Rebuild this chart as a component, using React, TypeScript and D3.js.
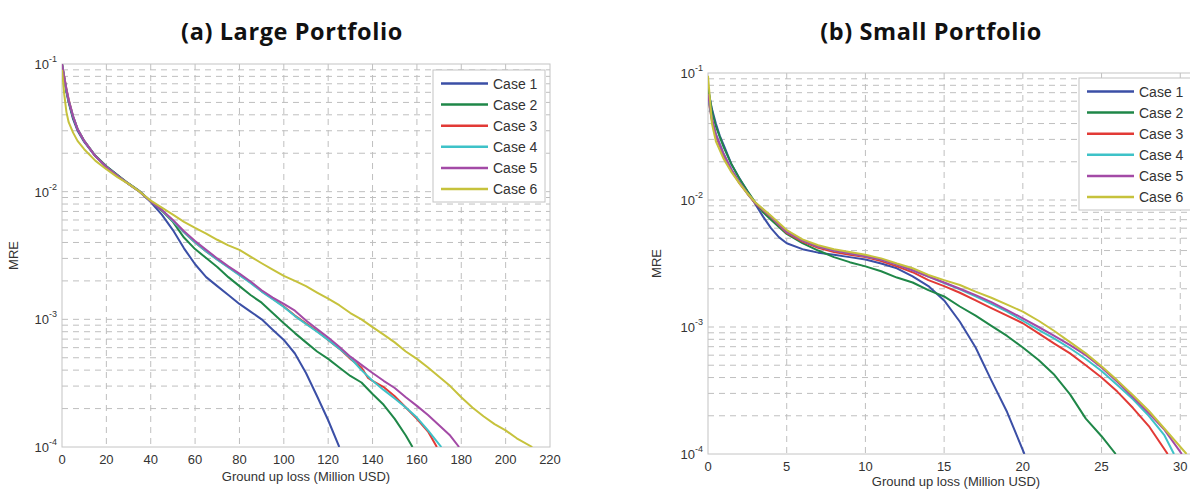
import React from 'react';
import * as d3 from 'd3';

// ---------- data ----------
const caseNames = ['Case 1', 'Case 2', 'Case 3', 'Case 4', 'Case 5', 'Case 6'];
const caseColors = ['#3b4fa6', '#1f8748', '#e23a36', '#3ec2c8', '#a34aa6', '#c6c23c'];

const largeXTicks = [0, 20, 40, 60, 80, 100, 120, 140, 160, 180, 200, 220];
const smallXTicks = [0, 5, 10, 15, 20, 25, 30];
const yTickExps = [-1, -2, -3, -4];

// (a) Large portfolio
const largeCase1X = [0, 1, 2, 3, 5, 7, 10, 15, 20, 25, 30, 35, 40, 45, 50, 55, 60, 65, 70, 75, 80, 85, 90, 95, 100, 105, 110, 115, 120, 125];
const largeCase1Y = [0.1, 0.076, 0.06, 0.05, 0.037, 0.03, 0.0245, 0.019, 0.0158, 0.0135, 0.0115, 0.01, 0.0083, 0.0066, 0.005, 0.0036, 0.0027, 0.00214, 0.00182, 0.00155, 0.00132, 0.00115, 0.001, 0.00083, 0.00069, 0.00054, 0.00038, 0.00025, 0.000162, 0.0001];

const largeCase2X = [0, 1, 2, 3, 5, 7, 10, 15, 20, 25, 30, 35, 40, 45, 50, 55, 60, 65, 70, 75, 80, 85, 90, 95, 100, 105, 110, 115, 120, 125, 130, 135, 140, 145, 150, 155, 158];
const largeCase2Y = [0.1, 0.078, 0.062, 0.051, 0.038, 0.031, 0.025, 0.0192, 0.0158, 0.0135, 0.0116, 0.0101, 0.0084, 0.0071, 0.0058, 0.00437, 0.00355, 0.00302, 0.00257, 0.00214, 0.00182, 0.00155, 0.00135, 0.00112, 0.00093, 0.00078, 0.00066, 0.00056, 0.00049, 0.00042, 0.00036, 0.00032, 0.00026, 0.000214, 0.000166, 0.000123, 0.0001];

const largeCase3X = [0, 1, 2, 3, 5, 7, 10, 15, 20, 25, 30, 35, 40, 45, 50, 55, 60, 65, 70, 75, 80, 85, 90, 95, 100, 105, 110, 115, 120, 125, 130, 135, 138, 140, 145, 150, 155, 160, 165, 169];
const largeCase3Y = [0.1, 0.08, 0.064, 0.053, 0.039, 0.031, 0.025, 0.019, 0.0156, 0.0133, 0.0115, 0.01, 0.0084, 0.0072, 0.0059, 0.0048, 0.004, 0.0034, 0.00295, 0.00257, 0.00224, 0.00195, 0.00166, 0.00145, 0.00126, 0.00107, 0.00093, 0.00081, 0.00069, 0.00059, 0.00049, 0.00042, 0.000347, 0.00033, 0.000295, 0.00025, 0.000204, 0.000166, 0.000132, 0.0001];

const largeCase4X = [0, 1, 2, 3, 5, 7, 10, 15, 20, 25, 30, 35, 40, 45, 50, 55, 60, 65, 70, 75, 80, 85, 90, 95, 100, 105, 110, 115, 120, 125, 130, 135, 140, 145, 150, 155, 160, 165, 171];
const largeCase4Y = [0.1, 0.079, 0.063, 0.052, 0.039, 0.031, 0.025, 0.019, 0.0156, 0.0133, 0.0115, 0.01, 0.0084, 0.0072, 0.0059, 0.0048, 0.004, 0.0034, 0.00293, 0.00255, 0.00222, 0.00193, 0.00165, 0.00144, 0.00125, 0.00106, 0.00092, 0.0008, 0.00069, 0.00059, 0.0005, 0.0004, 0.00033, 0.00028, 0.00024, 0.000204, 0.00017, 0.000135, 0.0001];

const largeCase5X = [0, 1, 2, 3, 5, 7, 10, 15, 20, 25, 30, 35, 40, 45, 50, 55, 60, 65, 70, 75, 80, 85, 90, 95, 100, 105, 110, 115, 120, 125, 130, 135, 140, 145, 150, 155, 160, 165, 170, 175, 179];
const largeCase5Y = [0.1, 0.079, 0.063, 0.052, 0.039, 0.031, 0.025, 0.019, 0.0156, 0.0133, 0.0115, 0.01, 0.0084, 0.0072, 0.006, 0.0049, 0.0041, 0.0035, 0.003, 0.0026, 0.00228, 0.00198, 0.00169, 0.00148, 0.00132, 0.00117, 0.00098, 0.00084, 0.00072, 0.00061, 0.00051, 0.00044, 0.00038, 0.00033, 0.00029, 0.000245, 0.00021, 0.000178, 0.000148, 0.000123, 0.0001];

const largeCase6X = [0, 1, 2, 3, 5, 7, 10, 15, 20, 25, 30, 35, 40, 45, 50, 55, 60, 65, 70, 75, 80, 85, 90, 95, 100, 105, 110, 115, 120, 125, 130, 135, 140, 145, 150, 155, 160, 165, 170, 175, 180, 185, 190, 195, 200, 205, 212];
const largeCase6Y = [0.09, 0.058, 0.042, 0.035, 0.029, 0.025, 0.0215, 0.0175, 0.015, 0.013, 0.0115, 0.01, 0.0085, 0.0075, 0.0066, 0.0058, 0.0052, 0.0047, 0.0042, 0.0038, 0.0035, 0.0031, 0.00275, 0.00245, 0.00219, 0.002, 0.00182, 0.00162, 0.00145, 0.00129, 0.00112, 0.001, 0.00087, 0.00076, 0.00066, 0.00056, 0.00049, 0.00042, 0.000355, 0.0003, 0.000245, 0.000204, 0.000174, 0.000151, 0.000135, 0.000117, 0.0001];

// (b) Small portfolio
const smallCase1X = [0, 0.25, 0.5, 0.75, 1, 1.5, 2, 2.5, 3, 3.5, 4, 4.5, 5, 6, 7, 8, 9, 10, 11, 12, 13, 14, 15, 16, 17, 18, 19, 20.1];
const smallCase1Y = [0.075, 0.052, 0.04, 0.032, 0.027, 0.019, 0.0148, 0.0117, 0.0093, 0.0074, 0.006, 0.0051, 0.00457, 0.0041, 0.00385, 0.0037, 0.00355, 0.0034, 0.00316, 0.0029, 0.0025, 0.0021, 0.00162, 0.0011, 0.00069, 0.00038, 0.000214, 0.0001];

const smallCase2X = [0, 0.25, 0.5, 1, 1.5, 2, 2.5, 3, 3.5, 4, 5, 6, 7, 8, 9, 10, 11, 12, 13, 14, 15, 16, 17, 18, 19, 20, 21, 22, 23, 24, 25, 25.9];
const smallCase2Y = [0.078, 0.05, 0.038, 0.026, 0.019, 0.0147, 0.0118, 0.0096, 0.008, 0.007, 0.0054, 0.00457, 0.004, 0.00355, 0.00324, 0.003, 0.00275, 0.00245, 0.00224, 0.00195, 0.00174, 0.00145, 0.00123, 0.00102, 0.00085, 0.00069, 0.00055, 0.00042, 0.000295, 0.00019, 0.000138, 0.0001];

const smallCase3X = [0, 0.25, 0.5, 1, 1.5, 2, 2.5, 3, 4, 5, 6, 7, 8, 9, 10, 11, 12, 13, 14, 15, 16, 17, 18, 19, 20, 21, 22, 23, 24, 25, 26, 27, 28, 29.2];
const smallCase3Y = [0.065, 0.042, 0.032, 0.022, 0.017, 0.0135, 0.0112, 0.0094, 0.0073, 0.0055, 0.0047, 0.0042, 0.0039, 0.0037, 0.00355, 0.0033, 0.003, 0.0027, 0.00234, 0.0021, 0.00186, 0.00162, 0.00141, 0.00123, 0.00107, 0.00089, 0.00074, 0.00062, 0.0005, 0.0004, 0.00031, 0.00023, 0.000166, 0.0001];

const smallCase4X = [0, 0.25, 0.5, 1, 1.5, 2, 2.5, 3, 4, 5, 6, 7, 8, 9, 10, 11, 12, 13, 14, 15, 16, 17, 18, 19, 20, 21, 22, 23, 24, 25, 26, 27, 28, 29, 29.6];
const smallCase4Y = [0.066, 0.043, 0.033, 0.023, 0.0172, 0.0137, 0.0113, 0.0095, 0.0074, 0.0056, 0.0048, 0.0043, 0.004, 0.0038, 0.0036, 0.0034, 0.0031, 0.0028, 0.0025, 0.00222, 0.00198, 0.00174, 0.00152, 0.00132, 0.00112, 0.00095, 0.00081, 0.00068, 0.00056, 0.00045, 0.00035, 0.00027, 0.0002, 0.00014, 0.0001];

const smallCase5X = [0, 0.25, 0.5, 1, 1.5, 2, 2.5, 3, 4, 5, 6, 7, 8, 9, 10, 11, 12, 13, 14, 15, 16, 17, 18, 19, 20, 21, 22, 23, 24, 25, 26, 27, 28, 29, 30.1];
const smallCase5Y = [0.068, 0.044, 0.033, 0.023, 0.0173, 0.0138, 0.0114, 0.0095, 0.0074, 0.0056, 0.0048, 0.0043, 0.004, 0.0038, 0.0036, 0.0034, 0.0031, 0.0028, 0.0025, 0.00224, 0.002, 0.00178, 0.00157, 0.00136, 0.00117, 0.001, 0.00085, 0.00072, 0.0006, 0.00048, 0.00037, 0.00028, 0.00021, 0.000155, 0.0001];

const smallCase6X = [0, 0.25, 0.5, 1, 1.5, 2, 2.5, 3, 4, 5, 6, 7, 8, 9, 10, 11, 12, 13, 14, 15, 16, 17, 18, 19, 20, 21, 22, 23, 24, 25, 26, 27, 28, 29, 30.4];
const smallCase6Y = [0.095, 0.04, 0.029, 0.021, 0.0165, 0.0135, 0.0113, 0.0096, 0.0075, 0.0058, 0.0049, 0.0044, 0.0041, 0.0039, 0.0037, 0.00347, 0.00316, 0.0029, 0.00257, 0.00234, 0.00214, 0.0019, 0.0017, 0.0015, 0.00132, 0.00112, 0.00093, 0.00076, 0.00062, 0.00049, 0.00038, 0.00029, 0.000219, 0.000158, 0.0001];

const largeSeries = [
  [largeCase1X, largeCase1Y], [largeCase2X, largeCase2Y], [largeCase3X, largeCase3Y],
  [largeCase4X, largeCase4Y], [largeCase5X, largeCase5Y], [largeCase6X, largeCase6Y],
];
const smallSeries = [
  [smallCase1X, smallCase1Y], [smallCase2X, smallCase2Y], [smallCase3X, smallCase3Y],
  [smallCase4X, smallCase4Y], [smallCase5X, smallCase5Y], [smallCase6X, smallCase6Y],
];

const AXIS_FONT = 'Liberation Sans, Arial, Helvetica, sans-serif';
const GRID = '#bfbfbf';

type PanelProps = {
  id: string;
  title: string;
  titleX: number;
  left: number; right: number; top: number; bottom: number;
  xMax: number;
  xTicks: number[];
  series: number[][][];
  legendX: number; legendY: number;
  xLabelX: number; xLabelY: number; tickLabelY: number; yLabelX: number;
};

function Panel(p: PanelProps) {
  const x = d3.scaleLinear().domain([0, p.xMax]).range([p.left, p.right]);
  const y = d3.scaleLog().domain([1e-4, 1e-1]).range([p.bottom, p.top]);
  const minor: number[] = [];
  for (let e = -4; e < -1; e++) {
    for (let m = 2; m <= 9; m++) minor.push(m * Math.pow(10, e));
  }
  const line = d3.line<[number, number]>().x(d => x(d[0])).y(d => y(d[1]));
  const legendW = 112;
  const rowH = 21.1;
  const legendH = 132;
  return (
    <g>
      <defs>
        <clipPath id={p.id}>
          <rect x={p.left} y={p.top} width={p.right - p.left} height={p.bottom - p.top} />
        </clipPath>
      </defs>
      <rect x={p.left} y={p.top} width={p.right - p.left} height={p.bottom - p.top} fill="#fff" />
      {p.xTicks.filter(t => t > 0 && t < p.xMax).map(t => (
        <line key={'gx' + t} x1={x(t)} x2={x(t)} y1={p.top} y2={p.bottom} stroke={GRID} strokeWidth={1} strokeDasharray="6,5" />
      ))}
      {yTickExps.filter(e => e > -4 && e < -1).map(e => (
        <line key={'gy' + e} x1={p.left} x2={p.right} y1={y(Math.pow(10, e))} y2={y(Math.pow(10, e))} stroke={GRID} strokeWidth={1} strokeDasharray="6,5" />
      ))}
      {minor.map((v, i) => (
        <line key={'gm' + i} x1={p.left} x2={p.right} y1={y(v)} y2={y(v)} stroke={GRID} strokeWidth={1} strokeDasharray="6,5" />
      ))}
      <rect x={p.left} y={p.top} width={p.right - p.left} height={p.bottom - p.top} fill="none" stroke="#c4c4c4" strokeWidth={1} />
      <g clipPath={`url(#${p.id})`}>
        {p.series.map((s, i) => {
          const pts = s[0].map((xv, j) => [xv, s[1][j]] as [number, number]);
          return <path key={i} d={line(pts) || ''} fill="none" stroke={caseColors[i]} strokeWidth={2} strokeLinejoin="round" />;
        })}
      </g>
      {p.xTicks.map(t => (
        <text key={'xt' + t} x={x(t)} y={p.tickLabelY} textAnchor="middle" fontFamily={AXIS_FONT} fontSize={13} fill="#333">{t}</text>
      ))}
      {yTickExps.map(e => (
        <text key={'yt' + e} x={p.left - 5} y={y(Math.pow(10, e)) + 5} textAnchor="end" fontFamily={AXIS_FONT} fontSize={13} fill="#333">
          10<tspan dy={-7} fontSize={9}>{String(e)}</tspan>
        </text>
      ))}
      <text x={p.xLabelX} y={p.xLabelY} textAnchor="middle" fontFamily={AXIS_FONT} fontSize={13} fill="#333">Ground up loss (Million USD)</text>
      <text transform={`translate(${p.yLabelX},${(p.top + p.bottom) / 2}) rotate(-90)`} textAnchor="middle" fontFamily={AXIS_FONT} fontSize={13} fill="#333">MRE</text>
      <rect x={p.legendX} y={p.legendY} width={legendW} height={legendH} fill="#fff" stroke="#c4c4c4" strokeWidth={1} />
      {caseNames.map((n, i) => {
        const cy = p.legendY + 13.5 + i * rowH;
        return (
          <g key={n}>
            <line x1={p.legendX + 8} x2={p.legendX + 55} y1={cy} y2={cy} stroke={caseColors[i]} strokeWidth={2.5} />
            <text x={p.legendX + 60} y={cy + 5} fontFamily={AXIS_FONT} fontSize={14} fill="#333">{n}</text>
          </g>
        );
      })}
      <text x={p.titleX} y={40} textAnchor="middle" fontFamily="Open Sans, sans-serif" fontWeight={700} fontSize={23.5} letterSpacing={0.6} fill="#111">{p.title}</text>
    </g>
  );
}

export default function App() {
  return (
    <svg width={1190} height={490} style={{ position: 'absolute', left: 0, top: 0, background: '#fff' }}>
      <rect x={0} y={0} width={1190} height={490} fill="#fff" />
      <Panel id="clipA" title="(a) Large Portfolio" titleX={292}
        left={62} right={550} top={64} bottom={447} xMax={220} xTicks={largeXTicks}
        series={largeSeries} legendX={433} legendY={70}
        xLabelX={306} xLabelY={481} tickLabelY={464} yLabelX={18} />
      <Panel id="clipB" title="(b) Small Portfolio" titleX={931}
        left={708} right={1196} top={73} bottom={454} xMax={31} xTicks={smallXTicks}
        series={smallSeries} legendX={1079} legendY={78}
        xLabelX={956} xLabelY={486} tickLabelY={471} yLabelX={661} />
    </svg>
  );
}
